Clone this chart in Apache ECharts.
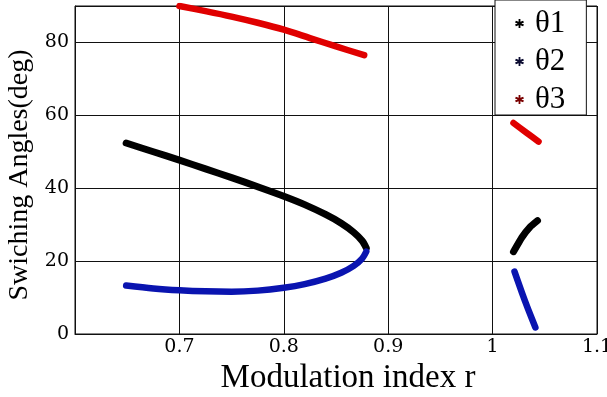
<!DOCTYPE html>
<html>
<head>
<meta charset="utf-8">
<script src="https://cdn.jsdelivr.net/npm/echarts@6/dist/echarts.min.js"></script>
<style>
html,body{margin:0;padding:0;background:#fff;}
#chart{width:607px;height:397px;}
</style>
</head>
<body>
<div id="chart"></div>
<script>
// Modulation index r vs switching angle (deg)
const theta1Main = [[0.649,52.4],[0.675,50.0],[0.700,47.7],[0.725,45.3],[0.750,42.9],[0.775,40.4],[0.800,37.8],[0.820,35.5],[0.840,32.8],[0.855,30.4],[0.867,27.9],[0.875,25.6],[0.879,23.6]];
const theta1High = [[1.020,22.6],[1.028,26.5],[1.036,29.4],[1.043,31.1]];
const theta2Main = [[0.649,13.3],[0.675,12.5],[0.700,12.0],[0.725,11.7],[0.750,11.6],[0.775,11.9],[0.800,12.7],[0.820,13.7],[0.840,15.2],[0.855,16.8],[0.867,18.7],[0.875,20.7],[0.879,22.6]];
const theta2High = [[1.021,17.1],[1.028,11.4],[1.034,6.8],[1.041,1.8]];
const theta3Main = [[0.700,90.0],[0.725,88.6],[0.750,87.1],[0.775,85.4],[0.800,83.5],[0.825,81.2],[0.850,78.9],[0.877,76.5]];
const theta3High = [[1.020,57.9],[1.032,55.3],[1.044,52.8]];
const seriesNames = ['θ1','θ2','θ3'];
const xMin = 0.6, xMax = 1.1, xStep = 0.1;
const yMin = 0, yMax = 90, yStep = 20;

const colors = { 'θ1': '#000000', 'θ2': '#0a14b0', 'θ3': '#e00000' };
const legendColors = { 'θ1': '#000000', 'θ2': '#0b0b30', 'θ3': '#7a0000' };
const widths = { 'θ1': 7, 'θ2': 6.5, 'θ3': 6.5 };

function seg(name, data, smooth) {
  return {
    name: name, type: 'line', data: data, smooth: smooth,
    symbol: 'none', animation: false,
    lineStyle: { color: colors[name], width: widths[name], cap: 'round', join: 'round' },
    itemStyle: { color: colors[name] }
  };
}

const chart = echarts.init(document.getElementById('chart'), null, { renderer: 'canvas' });
chart.setOption({
  animation: false,
  backgroundColor: '#fff',
  grid: { left: 75, right: 10, top: 6, bottom: 63, containLabel: false, outerBoundsMode: 'none',
          show: true, borderColor: '#111', borderWidth: 1, backgroundColor: 'transparent' },
  xAxis: {
    type: 'value', min: xMin, max: xMax, interval: xStep,
    name: 'Modulation index r', nameLocation: 'middle', nameGap: 20,
    nameTextStyle: { fontFamily: 'Liberation Serif', fontSize: 33, color: '#000', padding: [0, 0, 0, 24] },
    axisLine: { show: true, lineStyle: { color: '#111', width: 1 } },
    axisTick: { show: false },
    splitLine: { show: true, lineStyle: { color: '#111', width: 1 } },
    axisLabel: {
      margin: 4, color: '#000', fontFamily: 'DejaVu Serif', fontSize: 19, showMinLabel: false,
      formatter: function (v) { return Math.abs(v - xMin) < 1e-9 ? '' : String(Math.round(v * 10) / 10); }
    }
  },
  yAxis: {
    type: 'value', min: yMin, max: yMax, interval: yStep,
    name: 'Swiching Angles(deg)', nameLocation: 'middle', nameGap: 36,
    nameTextStyle: { fontFamily: 'Liberation Serif', fontSize: 28, color: '#000', padding: [0, 10, 0, 0] },
    axisLine: { show: true, lineStyle: { color: '#111', width: 1 } },
    axisTick: { show: false },
    splitLine: { show: true, lineStyle: { color: '#111', width: 1 } },
    axisLabel: { margin: 6, color: '#000', fontFamily: 'DejaVu Serif', fontSize: 19, showMaxLabel: false,
      formatter: function (v) { return v >= yMax ? '' : String(v); } }
  },
  legend: {
    orient: 'vertical', left: 495, top: 0,
    backgroundColor: '#fff', borderColor: '#111', borderWidth: 1, borderRadius: 0,
    padding: [8, 21, 0, 20], itemGap: 7, itemWidth: 9, itemHeight: 9,
    icon: 'path://M4,0 L6,0 L6,3 L9,2 L10,4 L7,5 L10,6 L9,8 L6,7 L6,10 L4,10 L4,7 L1,8 L0,6 L3,5 L0,4 L1,2 L4,3 Z',
    textStyle: { fontFamily: 'Liberation Serif', fontSize: 31, lineHeight: 30, color: '#000', padding: [0, 0, 0, 6] },
    data: seriesNames.map(n => ({ name: n, itemStyle: { color: legendColors[n] } }))
  },
  series: [
    seg('θ3', theta3Main, 0.3), seg('θ3', theta3High, 0.1),
    seg('θ1', theta1Main, 0.3), seg('θ1', theta1High, 0.1),
    seg('θ2', theta2Main, 0.3), seg('θ2', theta2High, 0.1)
  ]
});
</script>
</body>
</html>
